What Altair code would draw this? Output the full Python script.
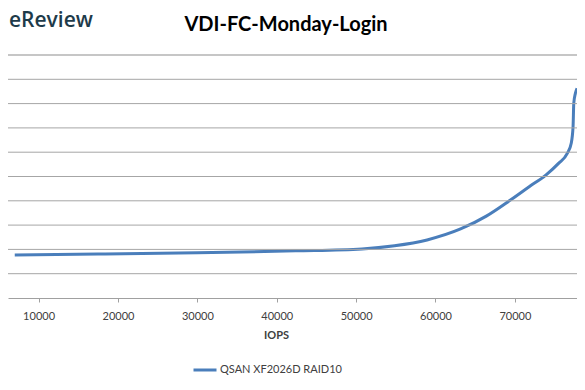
import altair as alt
import pandas as pd

# Values (y in gridline units, axis labels are cropped away)
iops = [7000, 17500, 30000, 42400, 50740, 54840, 58940, 63160, 66400, 69300,
        71800, 73900, 75500, 76600, 77100, 77330, 77420, 77620, 77830]
latency = [1.77, 1.81, 1.86, 1.94, 2.02, 2.15, 2.39, 2.84, 3.37, 4.00,
           4.58, 5.06, 5.54, 5.95, 6.37, 7.05, 8.01, 8.42, 8.63]
series_name = "QSAN XF2026D RAID10"
x_ticks = [10000, 20000, 30000, 40000, 50000, 60000, 70000]
grid_levels = [1, 2, 3, 4, 5, 6, 7, 8, 9]
chart_title = "VDI-FC-Monday-Login"
logo_text = "eReview"

df = pd.DataFrame({"iops": iops, "lat": latency, "series": [series_name] * len(iops)})
grid_df = pd.DataFrame({"lat": grid_levels})
one = pd.DataFrame({"k": [0]})

W, H = 569, 243
y_scale = alt.Scale(domain=[0, 10], nice=False, zero=True)

x_enc = alt.X(
    "iops:Q",
    scale=alt.Scale(domain=[6149, 77826], nice=False, zero=False),
    axis=alt.Axis(
        values=x_ticks, format="d", title="IOPS", grid=False,
        domainColor="#a0a0a0", domainWidth=1, tickColor="#a0a0a0", tickSize=4,
        labelFont="Lato", labelFontSize=11, labelColor="#404040", labelPadding=8,
        labelFlush=False, labelOverlap=False,
        titleFont="Lato", titleFontSize=11, titleFontWeight="bold", titleColor="#404040",
        titleX=268, titleY=37, titleBaseline="middle", titleAlign="center",
    ),
)

line = alt.Chart(df).mark_line(interpolate="monotone", strokeWidth=3, clip=True).encode(
    x=x_enc,
    y=alt.Y("lat:Q", scale=y_scale,
            axis=alt.Axis(labels=False, ticks=False, domain=False, grid=False, title=None)),
    color=alt.Color(
        "series:N",
        scale=alt.Scale(range=["#4a7ebb"]),
        legend=alt.Legend(
            title=None, orient="none", legendX=184, legendY=302, padding=0,
            symbolType="stroke", symbolSize=529, symbolStrokeWidth=3,
            labelFont="Lato", labelFontSize=11, labelColor="#404040", labelOffset=2,
        ),
    ),
)

grid = alt.Chart(grid_df).mark_rule(color="#a6a6a6", strokeWidth=1).encode(
    y=alt.Y("lat:Q", scale=y_scale)
)

top_rule = alt.Chart(one).mark_rule(color="#c6c6c6", strokeWidth=2).encode(y=alt.datum(10))

logo = alt.Chart(one).mark_text(
    text=logo_text, align="left", baseline="alphabetic", font="Open Sans",
    fontSize=21, fontWeight=600, color="#1e3b4a",
).encode(x=alt.value(1), y=alt.value(-28))

title = alt.Chart(one).mark_text(
    text=chart_title, align="center", baseline="alphabetic", font="Lato",
    fontSize=20, fontWeight="bold", color="#000000",
).encode(x=alt.value(278), y=alt.value(-24))

chart = alt.layer(line, grid, top_rule, logo, title).properties(
    width=W, height=H,
    autosize=alt.AutoSizeParams(type="none"),
    padding={"left": 0, "right": 0, "top": 47, "bottom": 84},
).configure_view(strokeWidth=0)

chart.save("out.html", embed_options={"renderer": "svg", "actions": False})
